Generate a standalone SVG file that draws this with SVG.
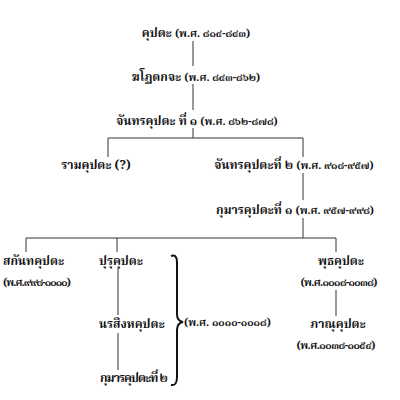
<svg xmlns="http://www.w3.org/2000/svg" width="400" height="400" viewBox="0 0 400 400">
<style>
text{font-family:"Noto Serif Thai","Norasi","Garuda","Loma","Tlwg Typo","Noto Sans Thai Looped","Noto Sans Thai","Liberation Serif",serif;font-size:12px;font-weight:bold;fill:#111;}
.d{font-size:10.5px;}
.c{text-anchor:middle;}
.ln{stroke:#333;stroke-width:1;fill:none;}
.br{stroke:#111;stroke-width:2;fill:none;}
</style>
<rect width="400" height="400" fill="#fff"/>
<g id="connectors">
<path class="ln" d="M193,41V66M193,84V110M193,128V138M108,138H303M108,138V157M303,138V157M303,173V200M303,218V238M26,238H336M26,238V252M117,238V252M336,238V252M118,268V315M118,333V370M336,290V316"/>
</g>
<g id="n1"><text class="c" x="196" y="37">คุปตะ <tspan class="d">(พ.ศ. ๘๑๔-๘๔๓)</tspan></text></g>
<g id="n2"><text class="c" x="196" y="81">ฆโฏตกจะ <tspan class="d">(พ.ศ. ๘๔๓-๘๖๒)</tspan></text></g>
<g id="n3"><text class="c" x="197" y="125">จันทรคุปตะ ที่ ๑ <tspan class="d">(พ.ศ. ๘๖๒-๘๗๘)</tspan></text></g>
<g id="n4"><text class="c" x="96" y="169">รามคุปตะ (?)</text></g>
<g id="n5"><text class="c" x="294" y="169">จันทรคุปตะที่ ๒ <tspan class="d">(พ.ศ. ๙๑๘-๙๕๗)</tspan></text></g>
<g id="n6"><text class="c" x="295" y="214">กุมารคุปตะที่ ๑ <tspan class="d">(พ.ศ. ๙๕๗-๙๙๘)</tspan></text></g>
<g id="n7"><text x="3" y="265">สกันทคุปตะ</text><text class="d" x="3" y="286" textLength="68" lengthAdjust="spacing">(พ.ศ.๙๙๘-๑๐๑๐)</text></g>
<g id="n8"><text x="99" y="265">ปุรุคุปตะ</text></g>
<g id="n9"><text x="99" y="328">นรสิงหคุปตะ</text></g>
<g id="n10"><text x="99" y="382" textLength="68" lengthAdjust="spacing">กุมารคุปตะที่ ๒</text></g>
<g id="n11"><text class="c" x="341" y="265">พุธคุปตะ</text><text class="d c" x="339" y="286" textLength="77" lengthAdjust="spacing">(พ.ศ.๑๐๑๘-๑๐๓๘)</text></g>
<g id="n12"><text class="c" x="338" y="328">ภาณุคุปตะ</text><text class="d c" x="336" y="349" textLength="79" lengthAdjust="spacing">(พ.ศ.๑๐๓๘-๑๐๕๔)</text></g>
<g id="brace"><path class="br" d="M171,256 Q177,254 177,262 L177,314 Q177,321 183,322 Q177,323 177,330 L177,377 Q177,386 171,385"/><text class="d" x="184" y="326">(พ.ศ. ๑๐๑๐-๑๐๑๘)</text></g>
</svg>
